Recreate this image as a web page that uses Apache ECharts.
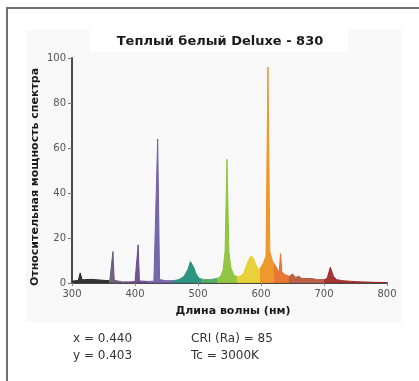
<!DOCTYPE html>
<html>
<head>
<meta charset="utf-8">
<script src="https://cdn.jsdelivr.net/npm/echarts@6/dist/echarts.min.js"></script>
<style>
html,body{margin:0;padding:0;background:#fff;}
#chart{width:419px;height:381px;}
</style>
</head>
<body>
<div id="chart"></div>
<script>
var titleText = 'Теплый белый Deluxe - 830';
var xAxisName = 'Длина волны (нм)';
var yAxisName = 'Относительная мощность спектра';
var infoLeft = ['x = 0.440', 'y = 0.403'];
var infoRight = ['CRI (Ra) = 85', 'Tc = 3000K'];

var wavelengths = [300,305,310,313,316,320,330,340,350,360,363,365,367,370,380,390,400,403,405,407,410,420,430,433,436,439,442,450,460,470,478,484,488,490,493,497,502,510,520,530,536,540,543,546,549,552,556,560,566,572,576,580,584,588,592,596,600,604,608,611,614,618,622,626,629,631,633,636,640,645,650,655,660,665,670,680,690,700,705,708,710,712,715,720,730,740,750,760,780,800];
var power = [0.8,1,1.2,4.5,1.5,1.5,1.6,1.4,1.2,1,1.2,14,1.2,0.8,0.5,0.5,0.6,0.8,17,0.9,0.8,0.7,0.8,1.2,64,1.5,1,1,1,1.5,3,6,9.5,10,7,4,2,1.5,1.5,2,3,6,14,55,14,7,4,3,3,4,7,10,12,11,8,6,7,9,12,96,14,10,8,6,5,13,5,4,3.5,3,4,2.5,3,2,2,2,1.5,1.5,2,5,7,6.5,3,1.5,1,0.8,0.6,0.5,0.3,0.2];

var xTicks = [300,400,500,600,700,800];
var yTicks = [0,20,40,60,80,100];

var bands = [
  {gte:300, lt:358, color:'#2b2b2b'},
  {gte:358, lt:385, color:'#6b5a7a'},
  {gte:385, lt:420, color:'#6a4c8c'},
  {gte:420, lt:460, color:'#7060a8'},
  {gte:460, lt:505, color:'#22907a'},
  {gte:505, lt:530, color:'#4aa860'},
  {gte:530, lt:562, color:'#8cc43a'},
  {gte:562, lt:598, color:'#e8cf30'},
  {gte:598, lt:620, color:'#ec9420'},
  {gte:620, lt:645, color:'#e8702a'},
  {gte:645, lt:700, color:'#b85a40'},
  {gte:700, lte:800, color:'#a02a2a'}
];

var FONT = 'DejaVu Sans';
var chart = echarts.init(document.getElementById('chart'), null, {renderer:'canvas'});
var seriesData = wavelengths.map(function(w,i){return [w, power[i]];});

chart.setOption({
  animation:false,
  backgroundColor:'#ffffff',
  grid:{left:72, right:32, top:58, bottom:98, containLabel:false},
  xAxis:{
    type:'value', min:xTicks[0], max:xTicks[xTicks.length-1], interval:100,
    axisLine:{show:true, lineStyle:{color:'#4a4a4a', width:2}},
    axisTick:{show:true, length:3, lineStyle:{color:'#888'}},
    axisLabel:{color:'#555', fontSize:10, fontFamily:FONT, margin:6},
    splitLine:{show:false}
  },
  yAxis:{
    type:'value', min:yTicks[0], max:yTicks[yTicks.length-1], interval:20,
    axisLine:{show:true, lineStyle:{color:'#4a4a4a', width:2}},
    axisTick:{show:true, length:4, lineStyle:{color:'#777'}},
    axisLabel:{color:'#555', fontSize:10, fontFamily:FONT, margin:6},
    splitLine:{show:false}
  },
  visualMap:{
    show:false, type:'piecewise', dimension:0, seriesIndex:0,
    pieces:bands
  },
  series:[{
    type:'line', data:seriesData, showSymbol:false, symbol:'none',
    lineStyle:{width:1}, areaStyle:{opacity:0.95}, z:3
  }],
  graphic:[
    {type:'rect', z:-10, silent:true, shape:{x:26, y:30, width:376, height:292}, style:{fill:'#f8f8f8'}},
    {type:'rect', z:-9, silent:true, shape:{x:90, y:30, width:258, height:22}, style:{fill:'#ffffff'}},
    {type:'line', z:10, shape:{x1:6, y1:8, x2:419, y2:8}, style:{stroke:'#707070', lineWidth:2}},
    {type:'line', z:10, shape:{x1:7, y1:7, x2:7, y2:381}, style:{stroke:'#707070', lineWidth:2}},
    {type:'text', z:10, x:220, y:42, style:{text:titleText, font:'bold 13px "DejaVu Sans"', fill:'#1a1a1a', textAlign:'center', textVerticalAlign:'middle'}},
    {type:'text', z:10, x:35, y:177, rotation:Math.PI/2, style:{text:yAxisName, font:'bold 11px "DejaVu Sans"', fill:'#1a1a1a', textAlign:'center', textVerticalAlign:'middle'}},
    {type:'text', z:10, x:233, y:311, style:{text:xAxisName, font:'bold 11px "DejaVu Sans"', fill:'#1a1a1a', textAlign:'center', textVerticalAlign:'middle'}},
    {type:'text', z:10, x:73, y:339, style:{text:infoLeft[0], font:'12px "DejaVu Sans"', fill:'#333', textAlign:'left', textVerticalAlign:'middle'}},
    {type:'text', z:10, x:73, y:356, style:{text:infoLeft[1], font:'12px "DejaVu Sans"', fill:'#333', textAlign:'left', textVerticalAlign:'middle'}},
    {type:'text', z:10, x:191, y:339, style:{text:infoRight[0], font:'12px "DejaVu Sans"', fill:'#333', textAlign:'left', textVerticalAlign:'middle'}},
    {type:'text', z:10, x:191, y:356, style:{text:infoRight[1], font:'12px "DejaVu Sans"', fill:'#333', textAlign:'left', textVerticalAlign:'middle'}}
  ]
});
</script>
</body>
</html>
